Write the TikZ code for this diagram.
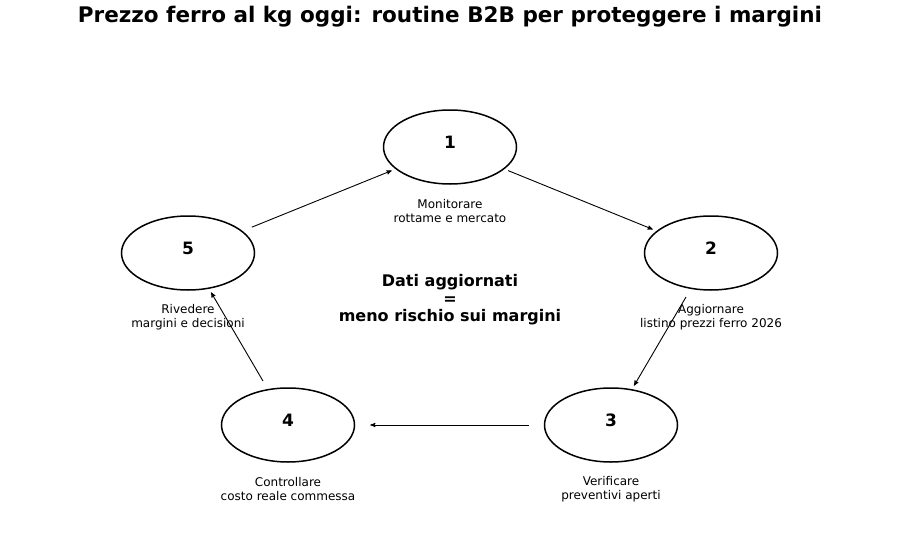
\documentclass[tikz,border=0pt]{standalone}
\usepackage{fontspec}
\setmainfont{DejaVu Sans}
\usetikzlibrary{shapes.geometric,arrows}
\begin{document}
\begin{tikzpicture}[x=1pt,y=-1pt,>=stealth',
                    stepnode/.style={ellipse,draw,line width=1.5pt,minimum width=133pt,minimum height=74pt},
                    nr/.style={font=\bfseries\fontsize{17}{20}\selectfont},
                    lbl/.style={font=\fontsize{12}{13.5}\selectfont,align=center},
                    flow/.style={->,line width=0.9pt,shorten >=4pt,shorten <=4pt}]
  \useasboundingbox (0,0) rectangle (900,546);
  \node[font=\bfseries\fontsize{21.5}{25}\selectfont] (title) at (450,17) {Prezzo ferro al kg oggi: routine B2B per proteggere i margini};

  \node[stepnode] (A) at (450,147) {};
  \node[stepnode] (B) at (711,253) {};
  \node[stepnode] (C) at (611,425) {};
  \node[stepnode] (D) at (288,425) {};
  \node[stepnode] (E) at (188,253) {};

  \node[nr] at (450,142) {1};
  \node[nr] at (711,248) {2};
  \node[nr] at (611,420) {3};
  \node[nr] at (288,420) {4};
  \node[nr] at (188,248) {5};

  \node[lbl] (lA) at (450,211) {Monitorare\\rottame e mercato};
  \node[lbl] (lB) at (711,317) {Aggiornare\\listino prezzi ferro 2026};
  \node[lbl] (lC) at (611,489) {Verificare\\preventivi aperti};
  \node[lbl] (lD) at (288,489) {Controllare\\costo reale commessa};
  \node[lbl] (lE) at (188,317) {Rivedere\\margini e decisioni};

  \node[font=\bfseries\fontsize{16}{17.5}\selectfont,align=center] (mid) at (450,300)
       {Dati aggiornati\\=\\meno rischio sui margini};

  \coordinate (b2) at (686,297);
  \coordinate (d5) at (263,381);
  \draw[flow] (A) -- (B);
  \draw[flow,shorten <=0pt] (b2) -- (C);
  \draw[flow,shorten >=15pt,shorten <=15pt] (C) -- (D);
  \draw[flow,shorten <=0pt] (d5) -- (E);
  \draw[flow,shorten <=10pt] (E) -- (A);
\end{tikzpicture}
\end{document}
